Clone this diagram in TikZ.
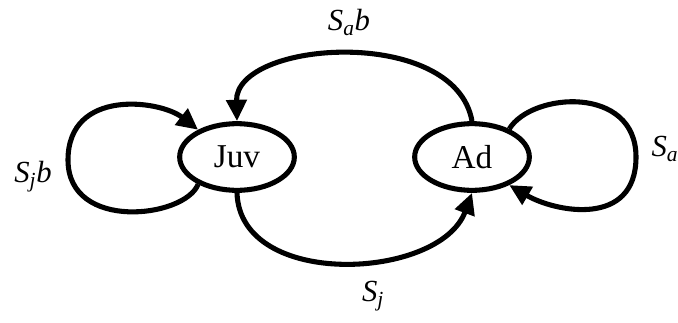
\documentclass[tikz,border=0pt]{standalone}
\usepackage{fontspec}
\setmainfont{Liberation Serif}
\usetikzlibrary{shapes.geometric,arrows.meta}

\tikzset{every picture/.style={line width=3.8pt}}
\tikzset{
  stage/.style={draw,ellipse,minimum width=86pt,minimum height=50pt,inner sep=0pt,font=\fontsize{25}{30}\selectfont},
  rate/.style={inner sep=0.75pt,font=\fontsize{23}{27}\selectfont\itshape},
  flow/.style={-{Triangle[length=16pt,width=15pt]}}
}

\begin{document}
\begin{tikzpicture}[x=0.75pt,y=0.75pt,yscale=-1,xscale=1]
\useasboundingbox (0,0) rectangle (678,322);

% Stages
\node [stage] (juv) at (237,157) {Juv};
\node [stage] (ad) at (472,157) {Ad};

% turning points of the loops
\coordinate (jl) at (68,160);
\coordinate (ar) at (636,157);

% Transitions
\draw [flow] (ad.north) .. controls (455,25) and (235,40) .. (juv.north);
\draw [flow] (juv.south) .. controls (240,290) and (440,280) .. (ad.south);
\draw [flow] (juv.-145) .. controls (185,218) and (68,232) .. (jl) .. controls (68,88) and (160,100) .. (juv.145);
\draw [flow] (ad.37) .. controls (532,92) and (636,85) .. (ar) .. controls (636,228) and (555,212) .. (ad.-37);

% Labels
\node [rate] (lsab) at (349,22) {S\textsubscript{a}b};
\node [rate] (lsjb) at (33,177) {S\textsubscript{j}b};
\node [rate] (lsa) at (665,149) {S\textsubscript{a}};
\node [rate] (lsj) at (373,296) {S\textsubscript{j}};

\end{tikzpicture}
\end{document}
